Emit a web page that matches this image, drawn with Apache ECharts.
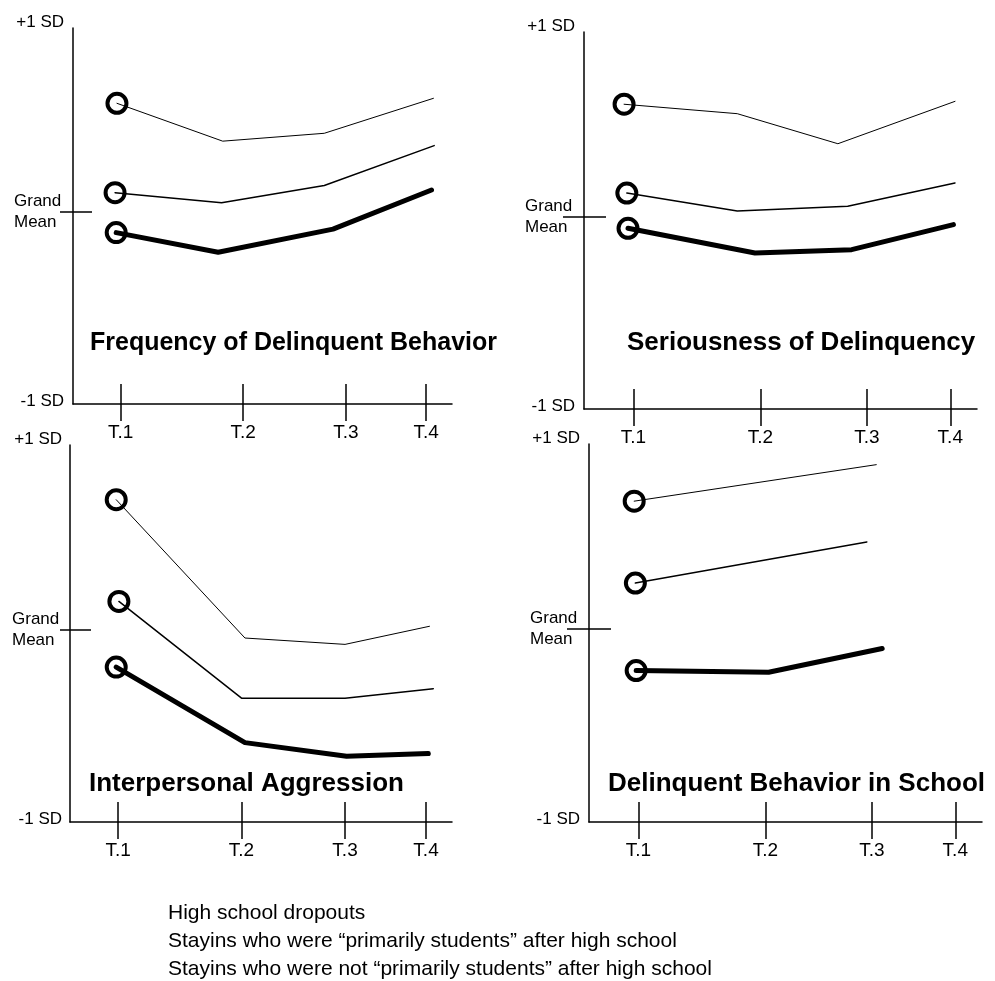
<!DOCTYPE html>
<html>
<head>
<meta charset="utf-8">
<script src="https://cdn.jsdelivr.net/npm/echarts@6/dist/echarts.min.js"></script>
<style>
html, body { margin: 0; padding: 0; background: #fff; }
#chart { width: 995px; height: 981px; }
</style>
</head>
<body>
<div id="chart"></div>
<script>
// x: time on a 0-100 scale, y: standardized score (grand mean = 0, -1 SD = -1)
var tickLabels = ['T.1', 'T.2', 'T.3', 'T.4'];
var tickTimes = [12.6, 44.9, 72.0, 93.2];
var groups = [
  'High school dropouts',
  'Stayins who were \u201cprimarily students\u201d after high school',
  'Stayins who were not \u201cprimarily students\u201d after high school'
];
var panelTitles = [
  'Frequency of Delinquent Behavior',
  'Seriousness of Delinquency',
  'Interpersonal Aggression',
  'Delinquent Behavior in School'
];

var freqA = [[11.6, 0.565], [39.5, 0.368], [66.3, 0.409], [95.1, 0.591]];
var freqB = [[11.1, 0.100], [39.2, 0.048], [66.3, 0.137], [95.3, 0.345]];
var freqC = [[11.4, -0.108], [38.3, -0.210], [68.6, -0.090], [94.6, 0.114]];

var seriousA = [[10.2, 0.582], [39.0, 0.533], [64.6, 0.377], [94.4, 0.597]];
var seriousB = [[10.9, 0.121], [39.0, 0.028], [67.1, 0.052], [94.4, 0.173]];
var seriousC = [[11.2, -0.062], [43.5, -0.190], [68.1, -0.173], [94.0, -0.043]];

var aggrA = [[12.1, 0.673], [45.8, -0.045], [72.0, -0.078], [94.1, 0.016]];
var aggrB = [[12.8, 0.145], [44.9, -0.357], [72.0, -0.357], [95.1, -0.308]];
var aggrC = [[12.1, -0.196], [45.8, -0.588], [72.4, -0.659], [93.8, -0.645]];

var schoolA = [[11.5, 0.661], [73.1, 0.850]];
var schoolB = [[11.8, 0.237], [70.7, 0.450]];
var schoolC = [[12.0, -0.216], [45.7, -0.225], [74.6, -0.102]];

var panelData = [
  [freqA, freqB, freqC],
  [seriousA, seriousB, seriousC],
  [aggrA, aggrB, aggrC],
  [schoolA, schoolB, schoolC]
];

var yMax = 0.957;
var font = 'Liberation Sans, Arial, Helvetica, sans-serif';

// layout of the four panels
var panels = [
  { grid: { left: 73, top: 28, width: 379, height: 376 }, gmOut: 13, gmIn: 19, title: [90, 331], titleSize: 25, yMargin: 9 },
  { grid: { left: 584, top: 32, width: 393, height: 377 }, gmOut: 21, gmIn: 22, title: [627, 330], titleSize: 26, yMargin: 9 },
  { grid: { left: 70, top: 445, width: 382, height: 377 }, gmOut: 10, gmIn: 21, title: [89, 771], titleSize: 26, yMargin: 8 },
  { grid: { left: 589, top: 444, width: 393, height: 378 }, gmOut: 22, gmIn: 22, title: [608, 771], titleSize: 26, yMargin: 9 }
];
var lineWidths = [1, 1.5, 5];

var grids = [], xAxes = [], yAxes = [], titles = [], series = [];

panels.forEach(function (p, i) {
  grids.push(Object.assign({ containLabel: false }, p.grid));

  titles.push({
    text: panelTitles[i],
    left: p.title[0],
    top: p.title[1],
    padding: 0,
    textStyle: { fontSize: p.titleSize, fontWeight: 'bold', color: '#000', fontFamily: font }
  });

  // main x axis: line, outside ticks, labels
  xAxes.push({
    type: 'value', gridIndex: i, min: 0, max: 100, position: 'bottom',
    axisLine: { onZero: false, lineStyle: { color: '#000', width: 1.5 } },
    axisTick: { show: true, customValues: tickTimes, length: 17, lineStyle: { color: '#000', width: 1.5 } },
    axisLabel: {
      show: true, customValues: tickTimes, margin: 19,
      color: '#000', fontSize: 19, fontFamily: font,
      formatter: function (v, idx) { return tickLabels[tickTimes.indexOf(v)] || tickLabels[idx]; }
    },
    splitLine: { show: false }
  });
  // second x axis: inside part of the ticks
  xAxes.push({
    type: 'value', gridIndex: i, min: 0, max: 100, position: 'bottom',
    axisLine: { show: false, onZero: false },
    axisTick: { show: true, inside: true, customValues: tickTimes, length: 20, lineStyle: { color: '#000', width: 1.5 } },
    axisLabel: { show: false },
    splitLine: { show: false }
  });

  yAxes.push({
    type: 'value', gridIndex: i, min: -1, max: yMax, position: 'left',
    axisLine: { show: true, lineStyle: { color: '#000', width: 1.5 } },
    axisTick: { show: true, customValues: [0], length: p.gmOut, lineStyle: { color: '#000', width: 1.5 } },
    axisLabel: {
      show: true, customValues: [-1, 0, yMax], margin: p.yMargin,
      color: '#000', fontSize: 17, fontFamily: font,
      formatter: function (v) {
        if (v < -0.5) return '{lo|-1 SD}';
        if (v > 0.5) return '{hi|+1 SD}';
        return '{gm|Grand}\n{gm|Mean}';
      },
      rich: {
        lo: { fontSize: 17, color: '#000', fontFamily: font, padding: [0, 0, 6, 0] },
        hi: { fontSize: 17, color: '#000', fontFamily: font, padding: [0, 0, 11, 0] },
        gm: { fontSize: 17, color: '#000', fontFamily: font, width: 50, align: 'left', lineHeight: 21 }
      }
    },
    splitLine: { show: false }
  });
  yAxes.push({
    type: 'value', gridIndex: i, min: -1, max: yMax, position: 'left',
    axisLine: { show: false },
    axisTick: { show: true, inside: true, customValues: [0], length: p.gmIn, lineStyle: { color: '#000', width: 1.5 } },
    axisLabel: { show: false },
    splitLine: { show: false }
  });

  panelData[i].forEach(function (pts, g) {
    series.push({
      name: groups[g],
      type: 'line',
      xAxisIndex: i * 2,
      yAxisIndex: i * 2,
      symbol: 'circle',
      symbolSize: 19,
      itemStyle: { color: 'rgba(0,0,0,0)', borderColor: '#000', borderWidth: 4 },
      lineStyle: { color: '#000', width: lineWidths[g], cap: 'round', join: 'round' },
      emphasis: { disabled: true },
      data: pts.map(function (pt, k) {
        return k === 0 ? pt : { value: pt, symbol: 'none' };
      })
    });
  });
});

var chart = echarts.init(document.getElementById('chart'), null, { renderer: 'canvas' });
chart.setOption({
  animation: false,
  backgroundColor: '#fff',
  title: titles,
  legend: {
    data: groups,
    orient: 'vertical',
    left: 157,
    bottom: 0,
    padding: [5, 5, 0, 5],
    itemWidth: 0,
    itemHeight: 21,
    itemGap: 5,
    selectedMode: false,
    icon: 'rect',
    itemStyle: { opacity: 0 },
    lineStyle: { opacity: 0 },
    textStyle: { fontSize: 21, color: '#000', fontFamily: font }
  },
  grid: grids,
  xAxis: xAxes,
  yAxis: yAxes,
  series: series
});
</script>
</body>
</html>
